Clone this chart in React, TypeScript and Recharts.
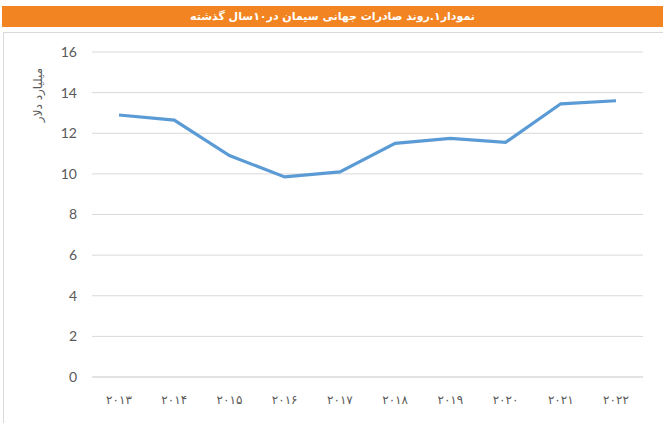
import { CartesianGrid, Line, LineChart, XAxis, YAxis } from "recharts";

const years = ["۲۰۱۳", "۲۰۱۴", "۲۰۱۵", "۲۰۱۶", "۲۰۱۷", "۲۰۱۸", "۲۰۱۹", "۲۰۲۰", "۲۰۲۱", "۲۰۲۲"];
const exports = [12.9, 12.65, 10.9, 9.85, 10.1, 11.5, 11.75, 11.55, 13.45, 13.6];
const yTicks = [0, 2, 4, 6, 8, 10, 12, 14, 16];

const title = "نمودار۱.روند صادرات جهانی سیمان در۱۰سال گذشته";
const yLabel = "میلیارد دلار";

const data = years.map((year, i) => ({ year, value: exports[i] }));

const App = () => {
  return (
    <div
      style={{
        position: "absolute",
        left: 0,
        top: 0,
        width: 663,
        height: 423,
        background: "#fff",
        overflow: "hidden",
      }}
    >
      <div
        style={{
          position: "absolute",
          left: 2,
          top: 6,
          width: 661,
          height: 21,
          background: "#F28422",
          color: "#fff",
          fontFamily: "DejaVu Sans",
          fontWeight: "bold",
          fontSize: 11,
          lineHeight: "21px",
          textAlign: "center",
          direction: "rtl",
        }}
      >
        {title}
      </div>
      <div
        style={{
          position: "absolute",
          left: 3,
          top: 32,
          width: 670,
          height: 400,
          border: "1px solid #d9d9d9",
          boxSizing: "border-box",
        }}
      />
      <div style={{ position: "absolute", left: 0, top: 0 }}>
        <LineChart
          width={663}
          height={423}
          data={data}
          margin={{ top: 52, right: 20, left: 52, bottom: 16 }}
        >
          <CartesianGrid vertical={false} stroke="#d9d9d9" strokeWidth={1} />
          <XAxis
            dataKey="year"
            height={30}
            axisLine={{ stroke: "#d9d9d9" }}
            tickLine={false}
            padding={{ left: 27, right: 27 }}
            tick={{ fill: "#595959", fontSize: 12, fontFamily: "DejaVu Sans" }}
            tickMargin={12}
            interval={0}
          />
          <YAxis
            width={40}
            domain={[0, 16]}
            ticks={yTicks}
            axisLine={false}
            tickLine={false}
            tickMargin={9}
            tick={{ fill: "#595959", fontSize: 14, fontFamily: "Lato" }}
          />
          <Line
            type="linear"
            dataKey="value"
            stroke="#5B9BD5"
            strokeWidth={3.2}
            dot={false}
            isAnimationActive={false}
          />
          <text
            x={38}
            y={95}
            transform="rotate(-90 38 95)"
            textAnchor="middle"
            dominantBaseline="middle"
            fill="#595959"
            fontSize={12}
            fontFamily="DejaVu Sans"
            direction="rtl"
          >
            {yLabel}
          </text>
        </LineChart>
      </div>
    </div>
  );
};

export default App;
